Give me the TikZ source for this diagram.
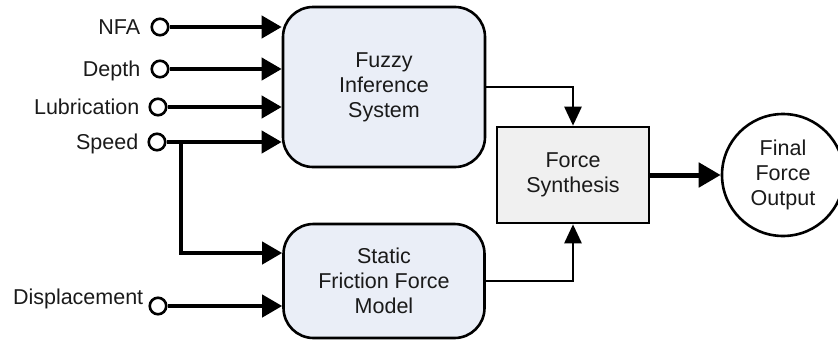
\documentclass[tikz,border=0pt]{standalone}
\usepackage{fontspec}
\setmainfont{Liberation Sans}
\usetikzlibrary{arrows.meta}
\definecolor{boxblue}{HTML}{EAEEF7}
\definecolor{boxgrey}{HTML}{F0F0F0}
\definecolor{txt}{HTML}{1A1A1A}
\begin{document}
\begin{tikzpicture}[x=1pt,y=-1pt,
  txtfont/.style={font=\fontsize{21.5}{25}\selectfont, text=txt},
  procbox/.style={draw, line width=2.6pt, fill=boxblue, rounded corners=30pt, align=center, txtfont},
  synbox/.style={draw, line width=2.6pt, fill=boxgrey, align=center, txtfont},
  outcirc/.style={draw, line width=2.6pt, circle, fill=white, align=center, txtfont, inner sep=0pt},
  inport/.style={draw, line width=2.6pt, circle, fill=white, minimum size=16.5pt, inner sep=0pt},
  lbl/.style={txtfont, inner sep=0pt, anchor=base east},
  inarrow/.style={line width=4pt, -{Triangle[length=20pt,width=22pt]}},
  midarrow/.style={line width=2.6pt, -{Triangle[length=19pt,width=17pt]}},
  finarrow/.style={line width=5pt, -{Triangle[length=22pt,width=24pt]}}
]
\useasboundingbox (0,0) rectangle (838,343);

% main blocks
\node[procbox, minimum width=202pt, minimum height=160pt] (fis) at (384,87) {Fuzzy\\Inference\\System};
\node[procbox, minimum width=201pt, minimum height=114pt] (sffm) at (384,281) {Static\\Friction Force\\Model};
\node[synbox, minimum width=152pt, minimum height=96pt] (fs) at (573,175) {Force\\Synthesis};
\node[outcirc, minimum size=122pt] (out) at (783,175) {Final\\Force\\Output};

% input ports
\node[inport] (nfa) at (160,27) {};
\node[inport] (depth) at (160,69) {};
\node[inport] (lub) at (158,107) {};
\node[inport] (speed) at (157,142) {};
\node[inport] (disp) at (158,306) {};

% labels
\node[lbl] (nfal) at ([xshift=-10pt,yshift=-7pt]nfa.west) {NFA};
\node[lbl] (depthl) at ([xshift=-10pt,yshift=-7pt]depth.west) {Depth};
\node[lbl] (lubl) at ([xshift=-9pt,yshift=-7pt]lub.west) {Lubrication};
\node[lbl] (speedl) at ([xshift=-9pt,yshift=-7pt]speed.west) {Speed};
\node[lbl] (displ) at ([xshift=-5pt,yshift=2pt]disp.west) {Displacement};

% branch point on speed line
\coordinate (br) at (181,142);

% connectors
\draw[inarrow] (nfa.east) -- (nfa -| fis.west);
\draw[inarrow] (depth.east) -- (depth -| fis.west);
\draw[inarrow] (lub.east) -- (lub -| fis.west);
\draw[inarrow] (speed.east) -- (speed -| fis.west);
\draw[inarrow, line join=miter] (br) |- ([yshift=28pt]sffm.west);
\draw[inarrow] (disp.east) -- (disp -| sffm.west);

\draw[midarrow] (fis.east) -| (fs.north);
\draw[midarrow] (sffm.east) -| (fs.south);
\draw[finarrow] (fs.east) -- (out.west);
\end{tikzpicture}
\end{document}
